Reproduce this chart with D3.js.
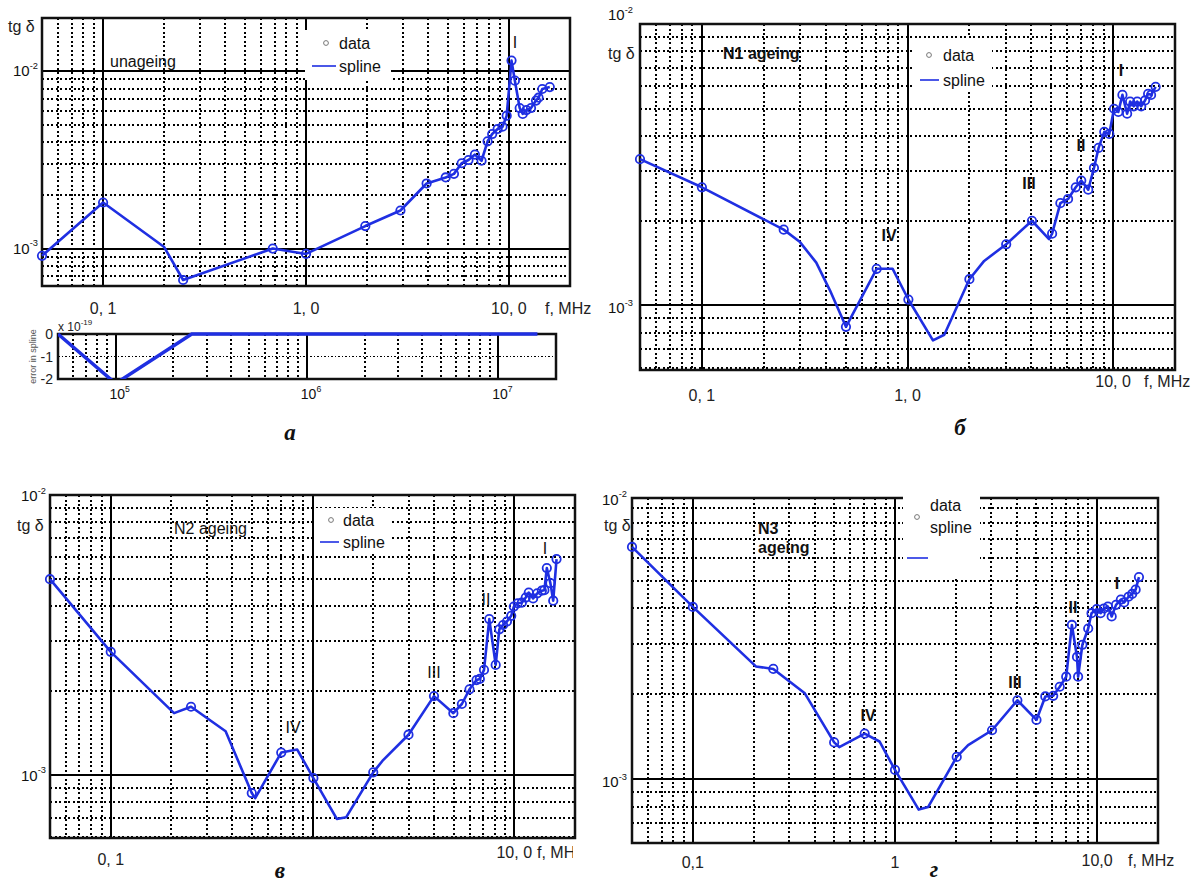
<!DOCTYPE html>
<html>
<head>
<meta charset="utf-8">
<script src="https://cdn.jsdelivr.net/npm/d3@7"></script>
<style>
  body { margin: 0; background: #fff; }
  text { font-family: "Liberation Sans", Arial, sans-serif; fill: #111; }
</style>
</head>
<body>
<svg id="chart" width="1195" height="886"></svg>
<script>
// ---- data (f in MHz, tg delta) ----
// measured points ("data", drawn with circles)
var freqA = [0.05, 0.1, 0.248, 0.686, 1.0, 1.96, 2.92, 3.93, 4.88, 5.36, 5.85, 6.32, 6.8, 7.33, 7.85, 8.27, 8.8, 9.3, 9.75, 10.3, 10.7, 11.3, 11.7, 12.2, 12.85, 13.6, 14.0, 14.6, 15.9];
var tgA   = [9.1e-4, 1.82e-3, 6.65e-4, 1.0e-3, 9.33e-4, 1.34e-3, 1.64e-3, 2.33e-3, 2.52e-3, 2.64e-3, 3.03e-3, 3.16e-3, 3.39e-3, 3.13e-3, 4.03e-3, 4.43e-3, 4.73e-3, 4.87e-3, 5.62e-3, 1.15e-2, 8.86e-3, 6.21e-3, 5.75e-3, 6.05e-3, 6.21e-3, 6.84e-3, 7.1e-3, 7.95e-3, 8.15e-3];
var freqB = [0.05, 0.1, 0.25, 0.502, 0.708, 1.01, 2.0, 3.02, 4.03, 5.05, 5.54, 6.04, 6.58, 7.0, 7.57, 8.07, 8.5, 9.06, 9.58, 10.1, 10.6, 11.1, 11.7, 12.1, 12.6, 13.1, 13.7, 14.3, 14.8, 15.3, 16.1];
var tgB   = [3.31e-3, 2.63e-3, 1.86e-3, 8.4e-4, 1.35e-3, 1.05e-3, 1.24e-3, 1.65e-3, 2.0e-3, 1.8e-3, 2.31e-3, 2.39e-3, 2.63e-3, 2.78e-3, 2.58e-3, 3.08e-3, 3.63e-3, 4.14e-3, 4.07e-3, 5.0e-3, 4.87e-3, 5.6e-3, 4.8e-3, 5.3e-3, 5.1e-3, 5.3e-3, 5.1e-3, 5.35e-3, 5.65e-3, 5.6e-3, 5.98e-3];
var freqV = [0.05, 0.1, 0.25, 0.5, 0.7, 1.01, 2.0, 2.99, 4.0, 4.99, 5.5, 6.0, 6.5, 6.75, 7.08, 7.52, 8.09, 8.43, 8.8, 9.2, 9.66, 9.95, 10.4, 10.9, 11.4, 11.8, 12.4, 13.0, 13.7, 14.1, 14.5, 15.1, 15.6, 16.2];
var tgV   = [5.0e-3, 2.75e-3, 1.75e-3, 8.6e-4, 1.2e-3, 9.73e-4, 1.02e-3, 1.39e-3, 1.91e-3, 1.66e-3, 1.79e-3, 2.02e-3, 2.18e-3, 2.2e-3, 2.37e-3, 3.6e-3, 2.47e-3, 3.31e-3, 3.43e-3, 3.53e-3, 3.7e-3, 3.99e-3, 4.1e-3, 4.12e-3, 4.3e-3, 4.48e-3, 4.27e-3, 4.45e-3, 4.55e-3, 4.57e-3, 5.48e-3, 4.84e-3, 4.19e-3, 5.9e-3];
var freqG = [0.05, 0.1, 0.25, 0.5, 0.708, 1.0, 2.02, 3.02, 4.03, 5.01, 5.54, 6.06, 6.53, 7.03, 7.5, 7.95, 8.05, 8.45, 9.03, 9.38, 9.95, 10.4, 10.8, 11.3, 11.8, 12.4, 13.1, 13.6, 14.3, 14.9, 15.5, 16.1];
var tgG   = [6.59e-3, 4.05e-3, 2.45e-3, 1.35e-3, 1.45e-3, 1.08e-3, 1.2e-3, 1.49e-3, 1.9e-3, 1.62e-3, 1.96e-3, 1.97e-3, 2.12e-3, 2.3e-3, 3.5e-3, 2.7e-3, 2.3e-3, 2.98e-3, 3.4e-3, 3.85e-3, 3.98e-3, 3.85e-3, 4.0e-3, 4.06e-3, 3.75e-3, 4.12e-3, 4.3e-3, 4.2e-3, 4.4e-3, 4.5e-3, 4.66e-3, 5.16e-3];

// extra spline vertices between measured points (no circles)
var knotFreqA = [0.2];
var knotTgA   = [1.02e-3];
var knotFreqB = [0.3, 0.36, 0.42, 0.847, 1.33, 1.51, 2.36, 4.88];
var knotTgB   = [1.68e-3, 1.42e-3, 1.13e-3, 1.35e-3, 7.52e-4, 7.87e-4, 1.44e-3, 1.72e-3];
var knotFreqV = [0.206, 0.371, 0.52, 0.84, 1.32, 1.47, 2.22];
var knotTgV   = [1.66e-3, 1.43e-3, 8.25e-4, 1.23e-3, 6.95e-4, 7.05e-4, 1.12e-3];
var knotFreqG = [0.205, 0.358, 0.53, 0.838, 1.31, 1.46, 2.3];
var knotTgG   = [2.5e-3, 2.01e-3, 1.3e-3, 1.36e-3, 7.83e-4, 8.0e-4, 1.32e-3];

// spline error (panel a, lower plot), f in Hz, error x 1e-19
var errFreq = [5e4, 1e5, 2.5e5, 1.6e7];
var errVal  = [0, -2.2, 0, 0];

// tick labels
var xTickVals = [0.1, 1, 10];
var xLabelsA = ["0, 1", "1, 0", "10, 0"];
var xLabelsB = ["0, 1", "1, 0", "10, 0"];
var xLabelsV = ["0, 1", "", "10, 0"];
var xLabelsG = ["0,1", "1", "10,0"];
var yTickVals = [1e-2, 1e-3];
var yTickExp = ["-2", "-3"];
var errTickVals = [1e5, 1e6, 1e7];
var errTickExp = ["5", "6", "7"];
var errYVals = [0, -1, -2];

var romanA = ["I"];
var romanB = ["IV", "III", "II", "I"];
var romanV = ["IV", "III", "II", "I"];
var romanG = ["IV", "III", "II", "I"];

var fDomain = [0.05, 20];
var blue = "#1f2fe2";

var svg = d3.select("#chart");

function isMajor(t) {
	var l = Math.log10(t);
	return Math.abs(l - Math.round(l)) < 1e-6;
}

function powLabel(g, x, y, exp, size, anchor) {
	var t = g.append("text")
		.attr("x", x).attr("y", y)
		.attr("text-anchor", anchor)
		.style("font-size", size + "px");
	t.append("tspan").text("10");
	t.append("tspan")
		.attr("dy", -size * 0.5)
		.style("font-size", (size * 0.62) + "px")
		.text(exp);
}

function gridStyle(sel) {
	sel.attr("stroke", "#000")
		.attr("shape-rendering", "crispEdges")
		.attr("stroke-width", function(d) { return isMajor(d) ? 2 : 2; })
		.attr("stroke-dasharray", function(d) { return isMajor(d) ? null : "2,2.5"; });
}

function drawGrid(g, x, y, x0, x1, y0, y1) {
	var xt = x.ticks().filter(function(t) { var px = x(t); return px > x0 + 1 && px < x1 - 1; });
	var yt = y.ticks().filter(function(t) { var py = y(t); return py > y0 + 1 && py < y1 - 1; });

	g.selectAll(".vg").data(xt).enter().append("line")
		.attr("x1", function(d) { return x(d); })
		.attr("x2", function(d) { return x(d); })
		.attr("y1", y0).attr("y2", y1)
		.call(gridStyle);

	g.selectAll(".hg").data(yt).enter().append("line")
		.attr("y1", function(d) { return y(d); })
		.attr("y2", function(d) { return y(d); })
		.attr("x1", x0).attr("x2", x1)
		.call(gridStyle);
}

function drawPanel(p) {
	var g = svg.append("g");
	var x = d3.scaleLog().domain(fDomain).range([p.x0, p.x1]);
	var y = d3.scaleLog().domain(p.yDom).range([p.y1, p.y0]);

	drawGrid(g, x, y, p.x0, p.x1, p.y0, p.y1);

	g.append("rect")
		.attr("x", p.x0).attr("y", p.y0)
		.attr("width", p.x1 - p.x0).attr("height", p.y1 - p.y0)
		.attr("fill", "none").attr("stroke", "#111").attr("stroke-width", 2.5);

	// legend background (hides the grid)
	var lg = p.legend;
	g.append("rect")
		.attr("x", lg.box[0]).attr("y", lg.box[1])
		.attr("width", lg.box[2]).attr("height", lg.box[3])
		.attr("fill", "#fff");

	// spline line through data + knots
	var pts = p.dF.map(function(f, i) { return [f, p.dV[i]]; })
		.concat(p.kF.map(function(f, i) { return [f, p.kV[i]]; }))
		.sort(function(a, b) { return a[0] - b[0]; });

	var line = d3.line()
		.x(function(d) { return x(d[0]); })
		.y(function(d) { return y(d[1]); });

	g.append("path")
		.attr("d", line(pts))
		.attr("fill", "none")
		.attr("stroke", blue)
		.attr("stroke-width", 2.6)
		.attr("stroke-linejoin", "round");

	g.selectAll(".pt").data(p.dF).enter().append("circle")
		.attr("cx", function(d) { return x(d); })
		.attr("cy", function(d, i) { return y(p.dV[i]); })
		.attr("r", 4.2)
		.attr("fill", "none")
		.attr("stroke", blue)
		.attr("stroke-width", 1.8);

	// legend contents
	g.append("circle")
		.attr("cx", lg.mark[0]).attr("cy", lg.mark[1]).attr("r", 2.4)
		.attr("fill", "none").attr("stroke", "#777").attr("stroke-width", 1);
	g.append("text").attr("x", lg.data[0]).attr("y", lg.data[1])
		.style("font-size", "16px").text("data");
	g.append("line")
		.attr("x1", lg.line[0]).attr("x2", lg.line[1])
		.attr("y1", lg.line[2]).attr("y2", lg.line[2])
		.attr("stroke", blue).attr("stroke-width", 1.6);
	g.append("text").attr("x", lg.spline[0]).attr("y", lg.spline[1])
		.style("font-size", "16px").text("spline");

	// panel title
	p.title.forEach(function(t) {
		g.append("text").attr("x", t[1]).attr("y", t[2])
			.style("font-size", "16px")
			.style("font-weight", p.bold ? "bold" : "normal")
			.text(t[0]);
	});

	// roman numerals
	p.roman.forEach(function(r, i) {
		g.append("text")
			.attr("x", p.romanPos[i][0]).attr("y", p.romanPos[i][1])
			.attr("text-anchor", "middle")
			.style("font-size", "16px")
			.style("font-weight", p.bold ? "bold" : "normal")
			.text(r);
	});

	// x tick labels
	xTickVals.forEach(function(v, i) {
		if (!p.xLabels[i]) return;
		g.append("text")
			.attr("x", x(v)).attr("y", p.xLabY[i])
			.attr("text-anchor", "middle")
			.style("font-size", "16px").style("fill", "#222")
			.text(p.xLabels[i]);
	});
	var fl = g.append("text")
		.attr("x", p.fLab[0]).attr("y", p.fLab[1])
		.style("font-size", "16px").style("fill", "#222")
		.text("f, MHz");
	if (p.fClip) {
		svg.append("clipPath").attr("id", "fclip" + p.id)
			.append("rect").attr("x", p.fLab[0] - 2).attr("y", p.fLab[1] - 20)
			.attr("width", p.fClip).attr("height", 28);
		fl.attr("clip-path", "url(#fclip" + p.id + ")");
	}

	// y tick labels
	yTickVals.forEach(function(v, i) {
		powLabel(g, p.x0 - p.yLabGap, y(v) + p.yLabDy[i], yTickExp[i], 15, "end");
	});

	g.append("text")
		.attr("x", p.tgPos[0]).attr("y", p.tgPos[1])
		.style("font-size", "16px").style("fill", "#222")
		.text("tg \u03b4");

	g.append("text")
		.attr("x", p.cap[0]).attr("y", p.cap[1])
		.attr("text-anchor", "middle")
		.style("font-family", "'Liberation Serif', 'Times New Roman', serif")
		.style("font-size", "23px").style("font-weight", "bold").style("font-style", "italic")
		.text(p.capText);
}

var panels = [
	{ id: "a", x0: 42, x1: 570, y0: 18, y1: 286, yDom: [6.15e-4, 2e-2],
	  dF: freqA, dV: tgA, kF: knotFreqA, kV: knotTgA, bold: false,
	  legend: { box: [305, 30, 86, 50], mark: [326, 43], data: [339, 49], line: [312, 336, 66], spline: [339, 72] },
	  title: [["unageing", 110, 67]],
	  roman: romanA, romanPos: [[515, 48]],
	  xLabels: xLabelsA, xLabY: [314, 314, 314], fLab: [545, 314],
	  yLabGap: 4, yLabDy: [5, 5], tgPos: [8, 32], cap: [290, 440], capText: "\u0430" },
	{ id: "b", x0: 640, x1: 1175, y0: 24, y1: 370, yDom: [5.9e-4, 1e-2],
	  dF: freqB, dV: tgB, kF: knotFreqB, kV: knotTgB, bold: true,
	  legend: { box: [914, 38, 78, 54], mark: [929, 55], data: [943, 61], line: [920, 939, 80], spline: [943, 86] },
	  title: [["N1 ageing", 723, 59]],
	  roman: romanB, romanPos: [[889, 241], [1029, 189], [1081, 151], [1121, 76]],
	  xLabels: xLabelsB, xLabY: [401, 401, 387], fLab: [1144, 387],
	  yLabGap: 7, yLabDy: [-4, 8], tgPos: [608, 59], cap: [960, 435], capText: "\u0431" },
	{ id: "v", x0: 50, x1: 575, y0: 495, y1: 838, yDom: [5.94e-4, 1e-2],
	  dF: freqV, dV: tgV, kF: knotFreqV, kV: knotTgV, bold: false,
	  legend: { box: [316, 508, 74, 46], mark: [331, 520], data: [343, 526], line: [320, 339, 542], spline: [343, 548] },
	  title: [["N2 ageing", 174, 534]],
	  roman: romanV, romanPos: [[293, 733], [434, 678], [486, 605], [545, 554]],
	  xLabels: xLabelsV, xLabY: [865, 865, 858], fLab: [537, 858], fClip: 38,
	  yLabGap: 4, yLabDy: [6, 6], tgPos: [17, 531], cap: [280, 878], capText: "\u0432" },
	{ id: "g", x0: 632, x1: 1158, y0: 498, y1: 843, yDom: [5.97e-4, 9.8e-3],
	  dF: freqG, dV: tgG, kF: knotFreqG, kV: knotTgG, bold: true,
	  legend: { box: [903, 490, 77, 88], mark: [917, 517], data: [930, 511], line: [907, 928, 558], spline: [930, 533] },
	  title: [["N3", 758, 534], ["ageing", 758, 553]],
	  roman: romanG, romanPos: [[868, 721], [1015, 688], [1073, 613], [1117, 589]],
	  xLabels: xLabelsG, xLabY: [868, 868, 866], fLab: [1128, 866],
	  yLabGap: 5, yLabDy: [9, 8], tgPos: [604, 531], cap: [934, 877], capText: "\u0433" }
];

panels.forEach(drawPanel);

// ---- panel a: error in spline ----
(function() {
	var ex0 = 58, ex1 = 556, ey0 = 334, ey1 = 379;
	var g = svg.append("g");
	var x = d3.scaleLog().domain([5e4, 2e7]).range([ex0, ex1]);
	var y = d3.scaleLinear().domain([-2, 0]).range([ey1, ey0]);

	var xt = x.ticks().filter(function(t) { var px = x(t); return px > ex0 + 1 && px < ex1 - 1; });
	g.selectAll(".evg").data(xt).enter().append("line")
		.attr("x1", function(d) { return x(d); })
		.attr("x2", function(d) { return x(d); })
		.attr("y1", ey0).attr("y2", ey1)
		.call(gridStyle);
	g.append("line")
		.attr("x1", ex0).attr("x2", ex1)
		.attr("y1", y(-1)).attr("y2", y(-1))
		.attr("stroke", "#000").attr("stroke-width", 1.5).attr("stroke-dasharray", "1.5,2")
		.attr("shape-rendering", "crispEdges");

	g.append("rect")
		.attr("x", ex0).attr("y", ey0)
		.attr("width", ex1 - ex0).attr("height", ey1 - ey0)
		.attr("fill", "none").attr("stroke", "#111").attr("stroke-width", 2.5);

	svg.append("clipPath").attr("id", "errclip")
		.append("rect").attr("x", ex0).attr("y", ey0 - 2).attr("width", ex1 - ex0).attr("height", ey1 - ey0 + 2);

	var line = d3.line()
		.x(function(d, i) { return x(d); })
		.y(function(d, i) { return y(errVal[i]); });
	g.append("path")
		.attr("d", line(errFreq))
		.attr("clip-path", "url(#errclip)")
		.attr("fill", "none").attr("stroke", blue).attr("stroke-width", 3.5);

	errYVals.forEach(function(v) {
		g.append("text")
			.attr("x", 53).attr("y", y(v) + 5)
			.attr("text-anchor", "end")
			.style("font-size", "14px").style("fill", "#222")
			.text(v === 0 ? "0" : String(v));
	});
	errTickVals.forEach(function(v, i) {
		powLabel(g, x(v) + 4, 399, errTickExp[i], 14, "middle");
	});

	var t = g.append("text").attr("x", 58).attr("y", 331).style("font-size", "12px").style("fill", "#222");
	t.append("tspan").text("x 10");
	t.append("tspan").attr("dy", -6).style("font-size", "8px").text("-19");

	g.append("text")
		.attr("transform", "translate(36," + ((ey0 + ey1) / 2) + ") rotate(-90)")
		.attr("text-anchor", "middle")
		.style("font-size", "9px").style("fill", "#555")
		.text("error in spline");
})();
</script>
</body>
</html>
